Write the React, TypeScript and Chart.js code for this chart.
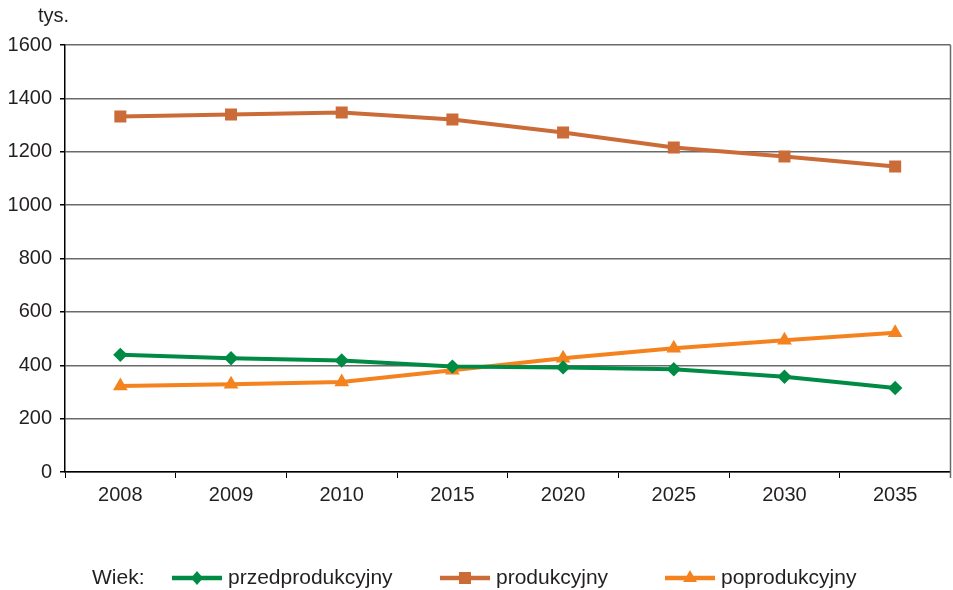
import React, { useEffect, useRef } from "react";
import { Chart, registerables } from "chart.js";

Chart.register(...registerables);

const categories = ["2008", "2009", "2010", "2015", "2020", "2025", "2030", "2035"];
const przedprodukcyjny = [439, 426, 418, 395, 392, 385, 357, 315];
const produkcyjny = [1332, 1340, 1347, 1321, 1272, 1216, 1182, 1145];
const poprodukcyjny = [322, 329, 337, 381, 426, 464, 494, 522];
const yTicks = [0, 200, 400, 600, 800, 1000, 1200, 1400, 1600];
const seriesNames = ["przedprodukcyjny", "produkcyjny", "poprodukcyjny"];
const unitLabel = "tys.";
const legendTitle = "Wiek:";

const GREEN = "#008B45";
const BROWN = "#CB6B37";
const ORANGE = "#F4831F";
const FONT = "'Liberation Sans', Arial, sans-serif";
const TEXT = "#231F20";
const GRID = "#6a6a6a";

function drawMarker(ctx: CanvasRenderingContext2D, style: string, x: number, y: number, color: string) {
  ctx.save();
  ctx.fillStyle = color;
  ctx.beginPath();
  if (style === "rect") {
    ctx.rect(x - 6, y - 6, 12, 12);
  } else if (style === "rectRot") {
    ctx.moveTo(x, y - 7);
    ctx.lineTo(x + 6, y);
    ctx.lineTo(x, y + 7);
    ctx.lineTo(x - 6, y);
    ctx.closePath();
  } else {
    const r = 8;
    ctx.moveTo(x, y - r);
    ctx.lineTo(x + r * 0.866, y + r * 0.5);
    ctx.lineTo(x - r * 0.866, y + r * 0.5);
    ctx.closePath();
  }
  ctx.fill();
  ctx.restore();
}

const extrasPlugin = {
  id: "extras",
  afterDraw(chart: any) {
    const ctx: CanvasRenderingContext2D = chart.ctx;
    const a = chart.chartArea;
    ctx.save();
    // right border
    ctx.strokeStyle = GRID;
    ctx.lineWidth = 1.5;
    ctx.beginPath();
    ctx.moveTo(a.right, a.top);
    ctx.lineTo(a.right, a.bottom + 6);
    ctx.stroke();

    ctx.fillStyle = TEXT;
    ctx.font = `20px ${FONT}`;
    ctx.textBaseline = "middle";
    ctx.textAlign = "left";
    ctx.fillText(unitLabel, 38, 16);
    // legend
    const ly = 578;
    ctx.font = `21px ${FONT}`;
    ctx.fillText(legendTitle, 92, ly);
    const items = [
      { x: 172, color: GREEN, style: "rectRot" },
      { x: 440, color: BROWN, style: "rect" },
      { x: 665, color: ORANGE, style: "triangle" },
    ];
    items.forEach((it, i) => {
      ctx.strokeStyle = it.color;
      ctx.lineWidth = 4.5;
      ctx.beginPath();
      ctx.moveTo(it.x, ly);
      ctx.lineTo(it.x + 50, ly);
      ctx.stroke();
      drawMarker(ctx, it.style, it.x + 25, ly, it.color);
      ctx.fillStyle = TEXT;
      ctx.fillText(seriesNames[i], it.x + 56, ly);
    });
    ctx.restore();
  },
};

export default function App() {
  const ref = useRef<HTMLCanvasElement | null>(null);
  useEffect(() => {
    if (!ref.current) return;
    const mk = (label: string, data: number[], color: string, style: string, radius: number) => ({
      label,
      data,
      borderColor: color,
      backgroundColor: color,
      borderWidth: 4,
      pointStyle: style,
      pointRadius: radius,
      pointBorderWidth: 0,
      pointBackgroundColor: color,
      tension: 0,
    });
    const chart = new Chart(ref.current, {
      type: "line",
      data: {
        labels: categories,
        datasets: [
          mk(seriesNames[0], przedprodukcyjny, GREEN, "rectRot", 7.2),
          mk(seriesNames[1], produkcyjny, BROWN, "rect", 8.5),
          mk(seriesNames[2], poprodukcyjny, ORANGE, "triangle", 8.5),
        ],
      },
      options: {
        animation: false,
        responsive: true,
        maintainAspectRatio: false,
        layout: { padding: { top: 45, right: 3, left: 0, bottom: 78 } },
        plugins: { legend: { display: false }, tooltip: { enabled: false } },
        scales: {
          x: {
            offset: true,
            afterFit: (s: any) => {
              s.height = 40;
              s.paddingLeft = 0;
              s.paddingRight = 0;
            },
            grid: {
              offset: true,
              drawOnChartArea: false,
              drawTicks: true,
              tickLength: 6,
              color: "#000",
              tickColor: "#000",
            },
            border: { display: true, color: "#000", width: 1.5 },
            ticks: {
              color: TEXT,
              font: { family: FONT, size: 20 },
              padding: 5,
              maxRotation: 0,
            },
          },
          y: {
            min: 0,
            max: 1600,
            afterFit: (s: any) => {
              s.width = 65;
            },
            afterBuildTicks: (s: any) => {
              s.ticks = yTicks.map((v) => ({ value: v }));
            },
            grid: {
              color: GRID,
              lineWidth: 1.5,
              tickLength: 5,
              tickColor: "#000",
            },
            border: { display: true, color: "#000", width: 1.5 },
            ticks: {
              color: TEXT,
              font: { family: FONT, size: 20 },
              padding: 8,
              callback: (v: any) => String(v),
            },
          },
        },
      },
      plugins: [extrasPlugin],
    } as any);
    return () => chart.destroy();
  }, []);
  return (
    <div style={{ position: "absolute", left: 0, top: 0, width: 953, height: 590, overflow: "hidden", background: "#fff" }}>
      <div style={{ position: "relative", width: 959, height: 590 }}>
        <canvas ref={ref} />
      </div>
    </div>
  );
}
